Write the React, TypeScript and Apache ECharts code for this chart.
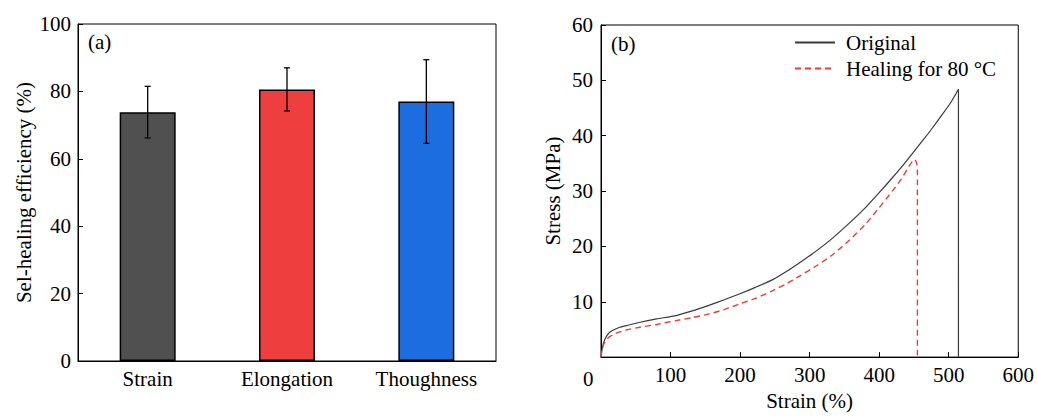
import React, { useEffect, useRef } from "react";
import * as echarts from "echarts";

const categories = ["Strain", "Elongation", "Thoughness"];
const efficiency = [73.8, 80.6, 77.0];
const errLow = [66.2, 74.2, 64.6];
const errHigh = [81.5, 87.0, 89.4];
const barColors = ["#505050", "#EF3E3E", "#1C6EE0"];

const origStrain = [0, 1, 2.5, 5, 8, 12.5, 18, 27, 40, 56, 80, 108, 130, 156, 178, 199, 222, 247, 266, 285, 300, 314, 333, 357, 381, 400, 419, 436, 453, 465, 476, 490, 503, 514, 514];
const origStress = [0, 1.0, 2.0, 3.0, 3.8, 4.5, 4.9, 5.4, 5.8, 6.3, 6.9, 7.5, 8.3, 9.4, 10.4, 11.4, 12.6, 14.0, 15.4, 17.0, 18.3, 19.6, 21.5, 24.2, 27.1, 29.7, 32.4, 34.9, 37.6, 39.5, 41.3, 43.7, 46.0, 48.4, 0];
const healStrain = [0, 1, 2.5, 5, 8, 12.5, 18, 27, 40, 56, 80, 108, 130, 156, 180, 199, 222, 247, 266, 285, 310, 333, 357, 381, 400, 419, 432, 443, 448, 451, 454, 455, 455];
const healStress = [0, 0.9, 1.8, 2.6, 3.2, 3.7, 4.1, 4.55, 5.0, 5.4, 5.9, 6.6, 7.1, 7.8, 8.7, 9.6, 10.6, 12.0, 13.2, 14.6, 16.5, 18.5, 21.1, 24.1, 27.0, 30.0, 32.2, 34.5, 35.4, 35.7, 35.0, 33.5, 0];

const FONT = "Liberation Serif";

export default function App() {
  const ref = useRef<HTMLDivElement>(null);
  useEffect(() => {
    document.body.style.margin = "0";
    const chart = echarts.init(ref.current!, null, { renderer: "svg" });
    const txt = { color: "#000", fontFamily: FONT, fontSize: 21 };
    const option: any = {
      animation: false,
      backgroundColor: "#fff",
      textStyle: { fontFamily: FONT },
      grid: [
        { left: 78, top: 24, width: 418, height: 337, show: true, borderColor: "#000", borderWidth: 1, containLabel: false },
        { left: 601, top: 25, width: 419, height: 337, show: true, borderColor: "#000", borderWidth: 1, containLabel: false },
      ],
      xAxis: [
        {
          gridIndex: 0, type: "category", data: categories,
          axisLine: { lineStyle: { color: "#000", width: 1 } },
          axisTick: { show: false },
          axisLabel: { ...txt, margin: 7 },
        },
        {
          gridIndex: 1, type: "value", min: 0, max: 600, interval: 100,
          axisLine: { lineStyle: { color: "#000", width: 1 } },
          axisTick: { inside: true, length: 5, lineStyle: { color: "#000" } },
          axisLabel: { ...txt, margin: 7, showMinLabel: false },
          splitLine: { show: false },
          name: "Strain (%)", nameLocation: "middle", nameGap: 32,
          nameTextStyle: { ...txt },
        },
      ],
      yAxis: [
        {
          gridIndex: 0, type: "value", min: 0, max: 100, interval: 20,
          axisLine: { show: true, lineStyle: { color: "#000", width: 1 } },
          axisTick: { show: true, inside: true, length: 5, lineStyle: { color: "#000" } },
          axisLabel: { ...txt, margin: 7 },
          splitLine: { show: false },
          name: "Sel-healing efficiency (%)", nameLocation: "middle", nameGap: 44,
          nameTextStyle: { ...txt },
        },
        {
          gridIndex: 1, type: "value", min: 0, max: 60, interval: 10,
          axisLine: { show: true, lineStyle: { color: "#000", width: 1 } },
          axisTick: { show: true, inside: true, length: 5, lineStyle: { color: "#000" } },
          axisLabel: { ...txt, margin: 8, showMinLabel: false },
          splitLine: { show: false },
          name: "Stress (MPa)", nameLocation: "middle", nameGap: 38,
          nameTextStyle: { ...txt },
        },
      ],
      legend: {
        left: 794, top: 32, padding: 0, orient: "vertical", itemWidth: 40, itemHeight: 14, itemGap: 5,
        textStyle: { ...txt, padding: [0, 0, 0, 6] },
        itemStyle: { opacity: 0 },
        data: ["Original", "Healing for 80 °C"],
      },
      series: [
        {
          type: "bar", xAxisIndex: 0, yAxisIndex: 0, barWidth: 56,
          data: efficiency.map((v, i) => ({ value: v, itemStyle: { color: barColors[i], borderColor: "#000", borderWidth: 1.5 } })),
          z: 2,
        },
        {
          type: "custom", xAxisIndex: 0, yAxisIndex: 0, z: 5,
          data: categories.map((c, i) => [i, errLow[i], errHigh[i]]),
          encode: { x: 0, y: [1, 2] },
          renderItem: (params: any, api: any) => {
            const lo = api.coord([api.value(0), api.value(1)]);
            const hi = api.coord([api.value(0), api.value(2)]);
            const w = 3;
            const st = { stroke: "#000", lineWidth: 1.3 };
            return {
              type: "group",
              children: [
                { type: "line", shape: { x1: lo[0], y1: lo[1], x2: hi[0], y2: hi[1] }, style: st },
                { type: "line", shape: { x1: lo[0] - w, y1: lo[1], x2: lo[0] + w, y2: lo[1] }, style: st },
                { type: "line", shape: { x1: hi[0] - w, y1: hi[1], x2: hi[0] + w, y2: hi[1] }, style: st },
              ],
            };
          },
        },
        {
          name: "Original", type: "line", xAxisIndex: 1, yAxisIndex: 1, symbol: "none", smooth: 0.2,
          data: origStrain.map((x, i) => [x, origStress[i]]),
          lineStyle: { color: "#3a3a3a", width: 1.2 },
          itemStyle: { color: "#3a3a3a" },
        },
        {
          name: "Healing for 80 °C", type: "line", xAxisIndex: 1, yAxisIndex: 1, symbol: "none", smooth: 0.2,
          data: healStrain.map((x, i) => [x, healStress[i]]),
          lineStyle: { color: "#F03A3A", width: 1.4, type: [6, 4] },
          itemStyle: { color: "#F03A3A" },
        },
      ],
      graphic: [
        { type: "text", left: 88, top: 31, style: { text: "(a)", fill: "#000", font: `21px "${FONT}"` } },
        { type: "text", left: 611, top: 33, style: { text: "(b)", fill: "#000", font: `21px "${FONT}"` } },
        { type: "text", left: 583, top: 368, style: { text: "0", fill: "#000", font: `21px "${FONT}"` } },
      ],
    };
    chart.setOption(option);
    return () => chart.dispose();
  }, []);
  return <div ref={ref} style={{ width: 1037, height: 416 }} />;
}
